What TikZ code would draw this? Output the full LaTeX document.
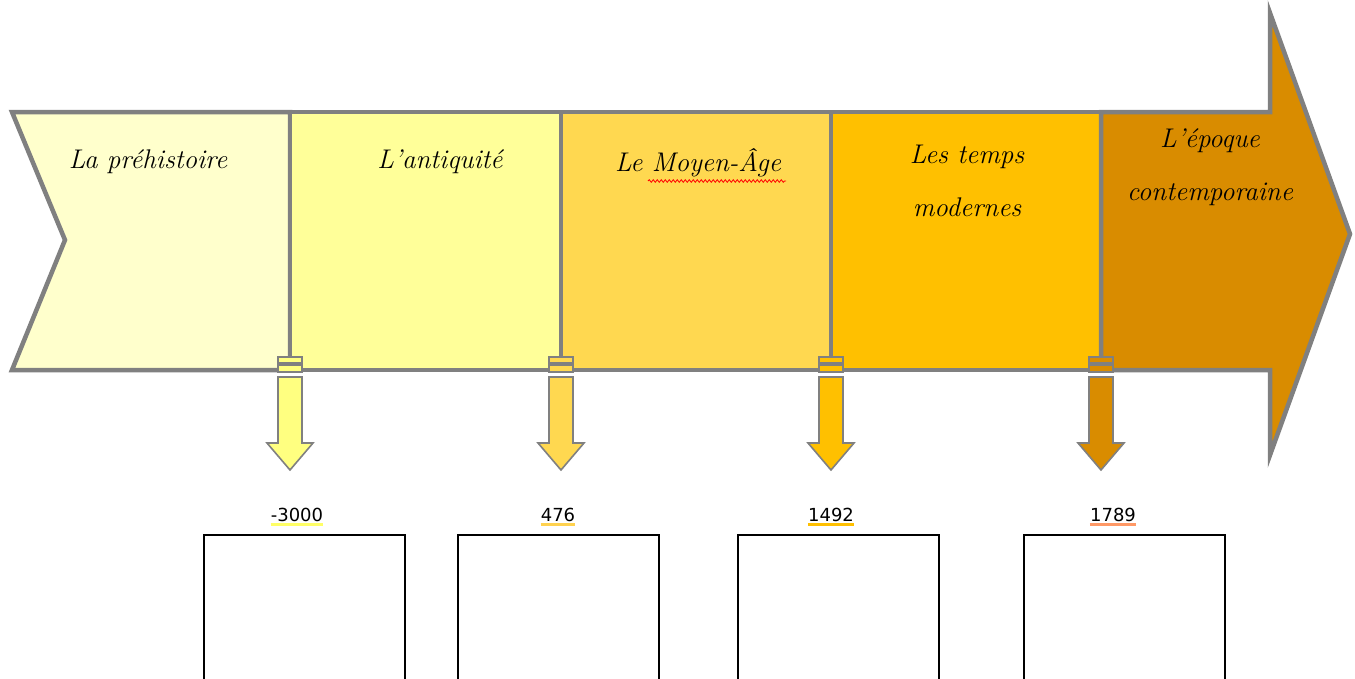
\documentclass[tikz,border=0pt]{standalone}
\usepackage{fontspec}
\setsansfont{DejaVu Sans}
\usetikzlibrary{decorations.pathmorphing}
\definecolor{cA}{HTML}{FFFFCC}
\definecolor{cB}{HTML}{FFFF99}
\definecolor{cC}{HTML}{FFD850}
\definecolor{cD}{HTML}{FFC000}
\definecolor{cE}{HTML}{D98C00}
\definecolor{aA}{HTML}{FFFF80}
\definecolor{edge}{HTML}{808080}
\definecolor{ulA}{HTML}{FFFF66}
\definecolor{ulB}{HTML}{FFD24F}
\definecolor{ulC}{HTML}{FFC000}
\definecolor{ulD}{HTML}{FF9966}
\begin{document}
\begin{tikzpicture}[x=1pt,y=-1pt,
  seg/.style={draw=edge,line width=4.5pt,line join=miter},
  period/.style={font=\fontsize{27}{53}\selectfont\itshape,align=center,inner sep=0pt},
  datelab/.style={font=\sffamily\fontsize{18}{20}\selectfont,inner sep=0pt},
  ansbox/.style={draw=black,fill=white,line width=1.3pt},
  downarrow/.style={draw=edge,line width=1.6pt,line join=miter},
  joint/.style={draw=edge,line width=1.6pt}]
\useasboundingbox[fill=white] (0,0) rectangle (1355,678);
% band segments
\path[seg,fill=cA] (12,112) -- (290,112) -- (290,370) -- (12,370) -- (65,240) -- cycle;
\path[seg,fill=cB] (290,112) -- (561,112) -- (561,370) -- (290,370) -- cycle;
\path[seg,fill=cC] (561,112) -- (831,112) -- (831,370) -- (561,370) -- cycle;
\path[seg,fill=cD] (831,112) -- (1101,112) -- (1101,370) -- (831,370) -- cycle;
\path[seg,fill=cE] (1101,112) -- (1270,112) -- (1270,13) -- (1350,234) -- (1270,455) -- (1270,370) -- (1101,370) -- cycle;
% period labels
\node[period] (p1) at (148,162) {La préhistoire};
\node[period] (p2) at (440,162) {L'antiquité};
\node[period] (p3) at (698,163) {Le Moyen-Âge};
\node[period] (p4) at (967,181) {Les temps\\modernes};
\node[period] (p5) at (1210,167) {L'époque\\contemporaine};
\draw[red,line width=0.8pt,decorate,decoration={snake,segment length=4pt,amplitude=1.3pt}] (648,181) -- (786,181);
% small down arrows
\foreach \x/\c/\n in {290/aA/1,561/cC/2,831/cD/3,1101/cE/4}{
  \path[joint,fill=\c] (\x-12,357) rectangle (\x+12,363);
  \path[joint,fill=\c] (\x-12,365) rectangle (\x+12,372);
  \path[downarrow,fill=\c] (\x-12,377) -- (\x+12,377) -- (\x+12,443) -- (\x+23,443)
     -- (\x,470) -- (\x-23,443) -- (\x-12,443) -- cycle;
}
% dates
\node[datelab] (d1) at (297,515) {-3000};
\node[datelab] (d2) at (558,515) {476};
\node[datelab] (d3) at (831,515) {1492};
\node[datelab] (d4) at (1113,515) {1789};
\draw[ulA,line width=3pt] ([yshift=-2pt]d1.south west) -- ([yshift=-2pt]d1.south east);
\draw[ulB,line width=3pt] ([yshift=-2pt]d2.south west) -- ([yshift=-2pt]d2.south east);
\draw[ulC,line width=3pt] ([yshift=-2pt]d3.south west) -- ([yshift=-2pt]d3.south east);
\draw[ulD,line width=3pt] ([yshift=-2pt]d4.south west) -- ([yshift=-2pt]d4.south east);
% answer boxes
\path[ansbox] (204,535) rectangle (405,690);
\path[ansbox] (458,535) rectangle (659,690);
\path[ansbox] (738,535) rectangle (939,690);
\path[ansbox] (1024,535) rectangle (1225,690);
\end{tikzpicture}
\end{document}
